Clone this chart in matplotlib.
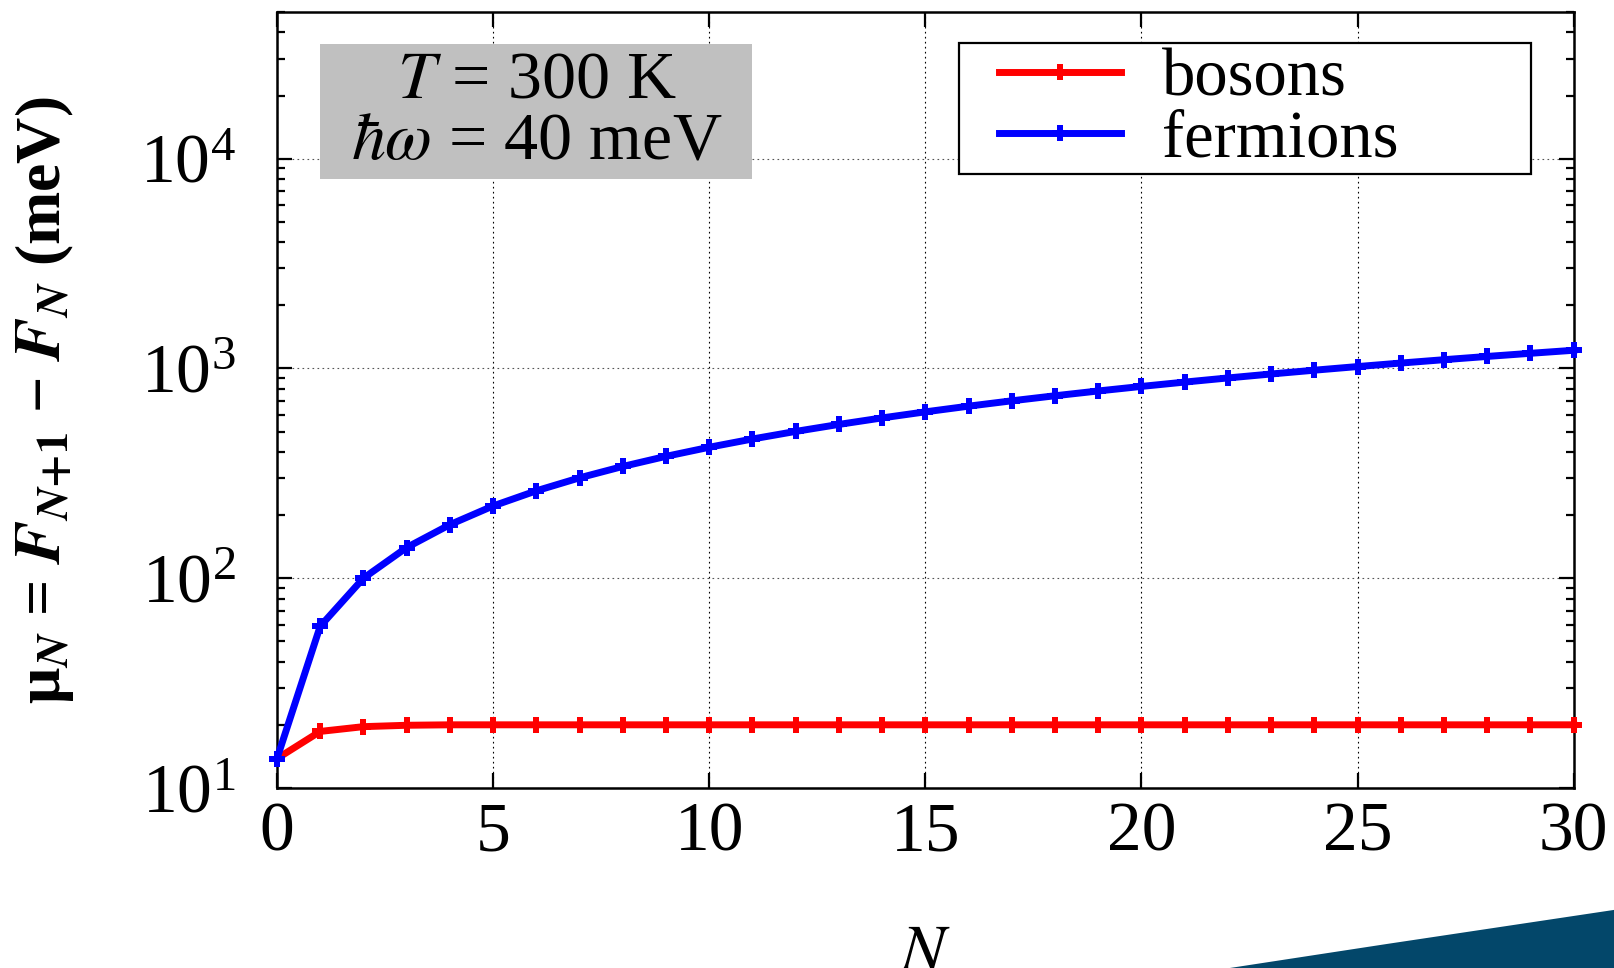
import numpy as np
import matplotlib
matplotlib.use("Agg")
import matplotlib.pyplot as plt
from matplotlib.patches import Polygon, Rectangle

plt.rcParams['font.family'] = ['Liberation Serif', 'DejaVu Serif']
plt.rcParams['mathtext.fontset'] = 'stix'

# data
N = list(range(31))
bosons = [13.8, 18.6, 19.6, 19.9, 20.0, 20.0, 20.0, 20.0, 20.0, 20.0,
          20.0, 20.0, 20.0, 20.0, 20.0, 20.0, 20.0, 20.0, 20.0, 20.0,
          20.0, 20.0, 20.0, 20.0, 20.0, 20.0, 20.0, 20.0, 20.0, 20.0, 20.0]
fermions = [13.8, 59, 100, 140, 180, 221, 261, 301, 341, 381,
            421, 461, 501, 541, 581, 621, 661, 701, 741, 781,
            821, 861, 901, 941, 981, 1021, 1061, 1101, 1141, 1181, 1221]
xticks = [0, 5, 10, 15, 20, 25, 30]

fig = plt.figure(figsize=(16.14, 9.68), dpi=100)
ax = fig.add_axes([0.1716, 0.186, 0.8034, 0.8015])

ax.plot(N, bosons, color='red', lw=5, marker='P', ms=11.5, mew=0, label='bosons', clip_on=False, zorder=4)
ax.plot(N, fermions, color='blue', lw=5, marker='P', ms=11.5, mew=0, label='fermions', clip_on=False, zorder=5)

ax.set_yscale('log')
ax.set_xlim(0, 30)
ax.set_ylim(10, 5e4)
ax.set_xticks(xticks)

for s in ax.spines.values():
    s.set_linewidth(1.8)
ax.tick_params(which='both', direction='in', top=True, right=True, width=1.6)
ax.tick_params(which='major', length=11, labelsize=50)
ax.tick_params(which='minor', length=6)
ax.tick_params(axis='x', which='minor', bottom=False, top=False)
ax.tick_params(axis='x', pad=10)
ax.tick_params(axis='y', pad=30)

ax.grid(True, which='major', axis='x', color='black', ls=(0, (1.5, 3)), lw=0.8)
ax.grid(True, which='major', axis='y', color='#555555', ls=(0, (1.5, 3)), lw=0.8)

ax.set_xlabel('$N$', fontsize=48, labelpad=42)
ax.set_ylabel(r'μ$_{\boldsymbol{N}}$ = $\boldsymbol{F}_{\boldsymbol{N}\mathbf{+1}}$ − $\boldsymbol{F}_{\boldsymbol{N}}$ (meV)',
              fontsize=46, fontweight='bold', labelpad=46)

# parameter box
ax.add_patch(Rectangle((0.033, 0.785), 0.333, 0.174, transform=ax.transAxes,
                       facecolor='#c0c0c0', edgecolor='none', zorder=6))
ax.text(0.2, 0.872, '$T$ = 300 K\n$\\hbar\\omega$ = 40 meV', transform=ax.transAxes,
        fontsize=49, ha='center', va='center', linespacing=1.0, zorder=7)

# legend frame drawn as a fixed box, entries placed inside it
ax.add_patch(Rectangle((0.526, 0.791), 0.441, 0.169, transform=ax.transAxes,
                       facecolor='white', edgecolor='black', lw=1.6, zorder=7, clip_on=False))
leg = ax.legend(loc='center left', bbox_to_anchor=(0.557, 0.875), frameon=False,
                fontsize=48, numpoints=1, handlelength=1.83, labelspacing=0.0,
                borderpad=0, handletextpad=0.61, borderaxespad=0)
leg.set_zorder(8)

# decorative corner shape at the bottom right
fig.patches.append(Polygon([[0.762, 0.0], [0.86, 0.025], [1.0, 0.06], [1.0, 0.0]],
                           closed=True, transform=fig.transFigure, facecolor='#03476a',
                           edgecolor='none'))

fig.savefig('out.png', dpi=100)
